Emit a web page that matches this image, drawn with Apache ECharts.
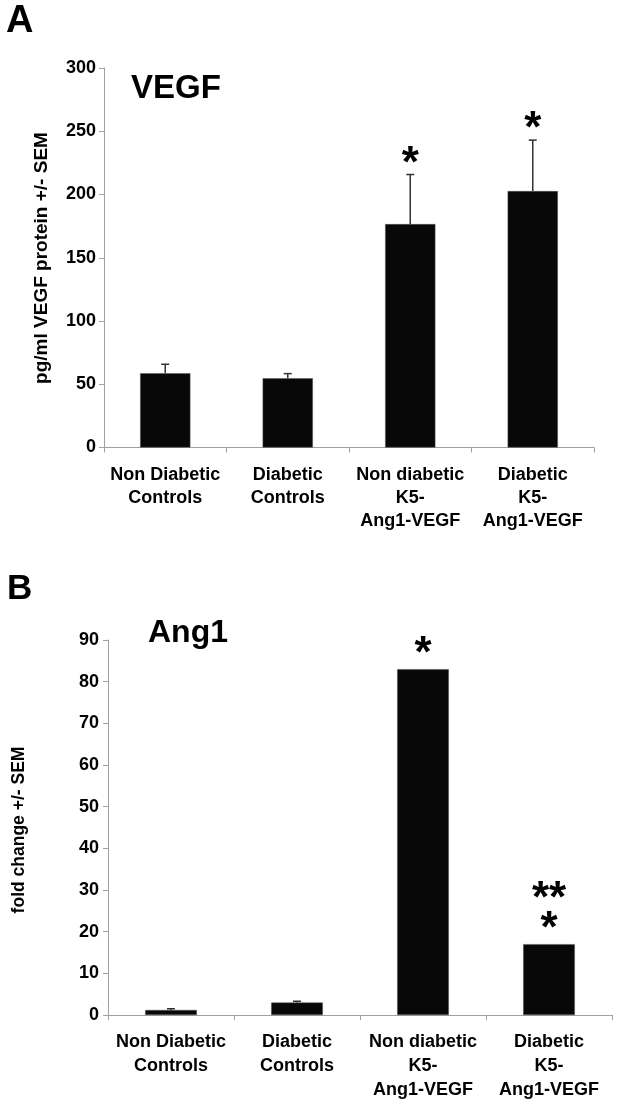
<!DOCTYPE html>
<html>
<head>
<meta charset="utf-8">
<script src="https://cdn.jsdelivr.net/npm/echarts@6/dist/echarts.min.js"></script>
<style>
html,body{margin:0;padding:0;background:#fff;}
#chart{width:621px;height:1107px;}
</style>
</head>
<body>
<div id="chart"></div>
<script>
// ---- data ----
const categories = ['Non Diabetic\nControls', 'Diabetic\nControls', 'Non diabetic\nK5-\nAng1-VEGF', 'Diabetic\nK5-\nAng1-VEGF'];
const vegfValues = [58.7, 54.7, 176.6, 202.7];
const vegfSem = [7.1, 3.7, 39.2, 40.3];
const vegfStars = ['', '', '*', '*'];
const ang1Values = [1.2, 3.0, 83.0, 17.0];
const ang1Sem = [0.3, 0.3, 0, 0];
const ang1Stars = ['', '', '*', '**\n*'];
const vegfAxis = { min: 0, max: 300, interval: 50 };
const ang1Axis = { min: 0, max: 90, interval: 10 };
const panelLetters = ['A', 'B'];
const panelTitles = ['VEGF', 'Ang1'];
const yNames = ['pg/ml VEGF protein +/- SEM', 'fold change +/- SEM'];

// ---- styles ----
const FONT = '"Liberation Sans", Arial, sans-serif';
const axisGray = '#a0a0a0';

function errSeries(gridIdx, values, sems, stars, gap) {
  return {
    type: 'custom',
    xAxisIndex: gridIdx, yAxisIndex: gridIdx,
    z: 5,
    data: values.map((v, i) => [i, v, sems[i]]),
    renderItem: function (params, api) {
      const i = api.value(0), v = api.value(1), e = api.value(2);
      const base = api.coord([i, v]);
      const top = api.coord([i, v + e]);
      const children = [];
      if (e > 0) {
        children.push({ type: 'line', shape: { x1: base[0], y1: base[1], x2: top[0], y2: top[1] },
          style: { stroke: '#333', lineWidth: 1.5 } });
        children.push({ type: 'line', shape: { x1: top[0] - 4, y1: top[1], x2: top[0] + 4, y2: top[1] },
          style: { stroke: '#333', lineWidth: 1.5 } });
      }
      const s = stars[params.dataIndex];
      if (s) {
        children.push({ type: 'text', x: top[0], y: top[1] - gap,
          style: { text: s, font: 'bold 44px ' + FONT, fill: '#000', align: 'center', verticalAlign: 'bottom', lineHeight: 30 } });
      }
      return { type: 'group', children: children };
    }
  };
}

function xAxisCfg(gridIdx, margin, lh) {
  return {
    type: 'category', gridIndex: gridIdx, data: categories,
    axisLine: { show: true, lineStyle: { color: axisGray, width: 1 } },
    axisTick: { show: true, length: 5, lineStyle: { color: axisGray } },
    axisLabel: { interval: 0, margin: margin, color: '#000', fontFamily: FONT, fontWeight: 'bold', fontSize: 18, lineHeight: lh }
  };
}
function yAxisCfg(gridIdx, ax, margin) {
  return {
    type: 'value', gridIndex: gridIdx, min: ax.min, max: ax.max, interval: ax.interval,
    splitLine: { show: false },
    axisLine: { show: true, lineStyle: { color: axisGray, width: 1 } },
    axisTick: { show: true, length: 5, lineStyle: { color: axisGray } },
    axisLabel: { margin: margin, color: '#000', fontFamily: FONT, fontWeight: 'bold', fontSize: 18 }
  };
}

const chart = echarts.init(document.getElementById('chart'), null, { renderer: 'canvas' });
chart.setOption({
  animation: false,
  backgroundColor: '#fff',
  grid: [
    { left: 104, right: 27, top: 68, bottom: 659.5 },
    { left: 108, right: 9, top: 640, bottom: 92 }
  ],
  xAxis: [xAxisCfg(0, 16, 23), xAxisCfg(1, 15, 24)],
  yAxis: [yAxisCfg(0, vegfAxis, 8), yAxisCfg(1, ang1Axis, 9)],
  series: [
    { type: 'bar', xAxisIndex: 0, yAxisIndex: 0, data: vegfValues, barWidth: '41%',
      itemStyle: { color: '#080808', borderColor: '#555', borderWidth: 0.5 } },
    errSeries(0, vegfValues, vegfSem, vegfStars, -5),
    { type: 'bar', xAxisIndex: 1, yAxisIndex: 1, data: ang1Values, barWidth: '41%',
      itemStyle: { color: '#080808', borderColor: '#555', borderWidth: 0.5 } },
    errSeries(1, ang1Values, ang1Sem, ang1Stars, -1)
  ],
  graphic: [
    { type: 'text', left: 6, top: 3, style: { text: panelLetters[0], font: 'bold 38px ' + FONT, fill: '#000' } },
    { type: 'text', left: 7, top: 572, style: { text: panelLetters[1], font: 'bold 35px ' + FONT, fill: '#000' } },
    { type: 'text', left: 131, top: 72, style: { text: panelTitles[0], font: 'bold 33px ' + FONT, fill: '#000' } },
    { type: 'text', left: 148, top: 617, style: { text: panelTitles[1], font: 'bold 32px ' + FONT, fill: '#000' } },
    { type: 'text', x: 42, y: 258, rotation: Math.PI / 2,
      style: { text: yNames[0], font: 'bold 19px ' + FONT, fill: '#000', align: 'center', verticalAlign: 'middle' } },
    { type: 'text', x: 19, y: 830, rotation: Math.PI / 2,
      style: { text: yNames[1], font: 'bold 17.5px ' + FONT, fill: '#000', align: 'center', verticalAlign: 'middle' } }
  ]
});
</script>
</body>
</html>
